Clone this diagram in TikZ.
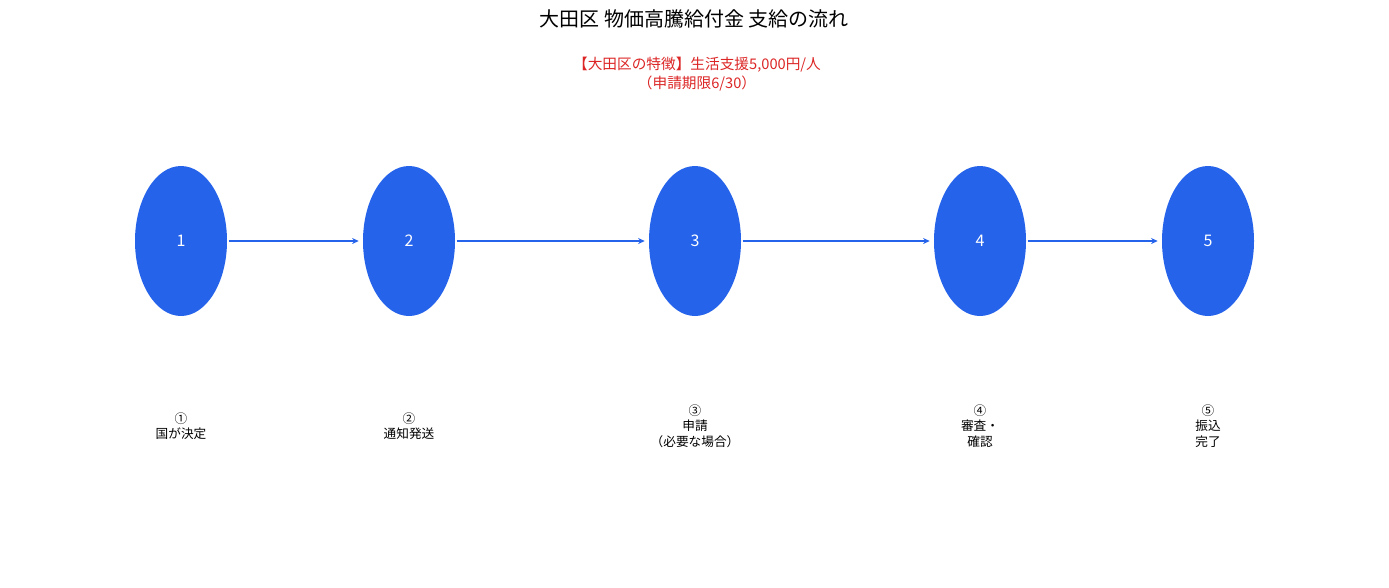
\documentclass[tikz,border=0pt]{standalone}
\usepackage{fontspec}
\setmainfont{Noto Sans CJK JP}
\usetikzlibrary{arrows.meta,shapes.geometric}
\definecolor{stepblue}{HTML}{2563EB}
\definecolor{notered}{HTML}{DC2626}
\begin{document}
\begin{tikzpicture}[x=0.75pt,y=-0.75pt,
  stepnode/.style={ellipse,fill=stepblue,minimum width=69pt,minimum height=112.5pt,inner sep=0pt,text=white,font=\fontsize{12}{14}\selectfont},
  conn/.style={draw=stepblue,line width=1.5pt,-{Stealth[length=5pt,width=4.5pt]},shorten >=3pt,shorten <=1pt},
  lab/.style={align=center,font=\fontsize{9.5}{11.5}\selectfont}]
\useasboundingbox (0,0) rectangle (1389,587);
\node[font=\fontsize{15}{18}\selectfont] (title) at (694,19) {大田区 物価高騰給付金 支給の流れ};
\node[text=notered,align=center,font=\fontsize{11}{14}\selectfont] (note) at (697,74) {【大田区の特徴】生活支援5,000円/人\\（申請期限6/30）};
\node[stepnode] (s1) at (181,241) {1};
\node[stepnode] (s2) at (409,241) {2};
\node[stepnode] (s3) at (695,241) {3};
\node[stepnode] (s4) at (980,241) {4};
\node[stepnode] (s5) at (1208,241) {5};
\draw[conn] (s1) -- (s2);
\draw[conn] (s2) -- (s3);
\draw[conn] (s3) -- (s4);
\draw[conn] (s4) -- (s5);
\node[lab] (l1) at (181,426) {①\\国が決定};
\node[lab] (l2) at (409,426) {②\\通知発送};
\node[lab] (l3) at (695,426) {③\\申請\\（必要な場合）};
\node[lab] (l4) at (980,426) {④\\審査・\\確認};
\node[lab] (l5) at (1208,426) {⑤\\振込\\完了};
\end{tikzpicture}
\end{document}
